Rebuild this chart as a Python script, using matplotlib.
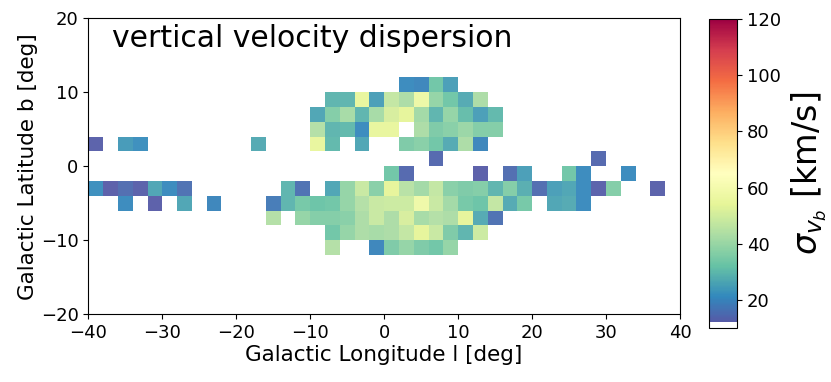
import numpy as np
import matplotlib
matplotlib.use("Agg")
import matplotlib.pyplot as plt
from matplotlib.colors import ListedColormap

# bin centres (2 deg bins) and vertical velocity dispersion per bin, row by row
lat_rows = [11, 9, 7, 5, 3, 1, -1, -3, -5, -7, -9, -11]
lon_rows = [
    [3, 5, 7, 9],
    [-7, -5, -3, -1, 1, 3, 5, 7, 9, 11, 13],
    [-9, -7, -5, -3, -1, 1, 3, 5, 7, 9, 11, 13, 15],
    [-9, -7, -5, -3, -1, 1, 5, 7, 9, 11, 13, 15],
    [-39, -35, -33, -17, -9, -7, -3, 3, 5, 7, 9, 11, 13],
    [7, 29],
    [1, 3, 13, 17, 19, 25, 27, 33],
    [-39, -37, -35, -33, -31, -29, -27, -13, -11, -7, -5, -3, -1, 1, 3, 5, 7, 9,
     11, 13, 15, 17, 19, 21, 23, 25, 27, 29, 31, 37],
    [-35, -31, -27, -23, -15, -13, -11, -9, -7, -5, -3, -1, 1, 3, 5, 7, 9, 11,
     13, 15, 17, 19, 23, 25, 27],
    [-15, -11, -9, -7, -5, -3, -1, 1, 3, 5, 7, 9, 11, 13, 15],
    [-7, -5, -3, -1, 1, 3, 5, 7, 9, 11, 13],
    [-7, -1, 1, 3, 5, 7, 9],
]
sigma_rows = [
    [21, 20, 33, 25],
    [29, 29, 55, 25, 47, 43, 57, 39, 33, 27, 43],
    [26, 36, 42, 29, 42, 51, 54, 41, 29, 39, 31, 25, 30],
    [44, 29, 30, 21, 55, 55, 43, 35, 37, 40, 36, 36],
    [13, 24, 22, 27, 55, 30, 26, 35, 37, 33, 27, 43, 20],
    [14, 14],
    [33, 14, 12.5, 15, 25, 33, 21, 21],
    [22, 12.5, 15, 13, 26, 21, 16, 29, 16, 26, 39, 48, 37, 54, 45, 41, 47, 37,
     35, 36, 29, 36, 28, 15, 25, 26, 21, 13, 36, 13],
    [21, 12.5, 26, 20, 18, 29, 34, 32, 33, 39, 44, 48, 49, 49, 58, 48, 41, 34,
     32, 47, 27, 34, 26, 27, 21],
    [44, 39, 36, 36, 37, 43, 48, 43, 51, 42, 44, 43, 54, 27, 16],
    [33, 39, 43, 42, 43, 47, 54, 48, 35, 29, 49],
    [44, 20, 35, 39, 35, 33, 39],
]

lon_edges = np.arange(-40, 41, 2)
lat_edges = np.arange(-20, 21, 2)
grid = np.full((len(lat_edges) - 1, len(lon_edges) - 1), np.nan)
for b, lons, sigs in zip(lat_rows, lon_rows, sigma_rows):
    for l, s in zip(lons, sigs):
        grid[np.searchsorted(lat_edges, b) - 1, np.searchsorted(lon_edges, l) - 1] = s

# Spectral_r with a white bottom sliver, like the reference colorbar
cols = plt.get_cmap("Spectral_r")(np.linspace(0, 1, 256))
cols[:5] = [1, 1, 1, 1]
cmap = ListedColormap(cols)

fig = plt.figure(figsize=(8.31, 3.82), dpi=100)
ax = fig.add_axes([0.1063, 0.178, 0.712, 0.774])
mesh = ax.pcolormesh(lon_edges, lat_edges, np.ma.masked_invalid(grid),
                     cmap=cmap, vmin=10, vmax=120, alpha=0.95)
ax.set_xlim(-40, 40)
ax.set_ylim(-20, 20)
ax.set_xticks(np.arange(-40, 41, 10))
ax.set_yticks(np.arange(-20, 21, 10))
ax.tick_params(labelsize=13)
ax.set_xlabel("Galactic Longitude l [deg]", fontsize=15.5, labelpad=2)
ax.set_ylabel("Galactic Latitude b [deg]", fontsize=15.5, labelpad=2)
ax.text(0.04, 0.904, "vertical velocity dispersion", transform=ax.transAxes,
        fontsize=21.5, va="baseline", ha="left")

cax = fig.add_axes([0.853, 0.141, 0.034, 0.809])
cb = fig.colorbar(mesh, cax=cax, ticks=[20, 40, 60, 80, 100, 120])
cb.solids.set_alpha(1)
cb.ax.tick_params(labelsize=13)
cb.set_label(r"$\sigma_{v_b}$ [km/s]", fontsize=24, labelpad=6)

fig.savefig("out.png", dpi=100)
